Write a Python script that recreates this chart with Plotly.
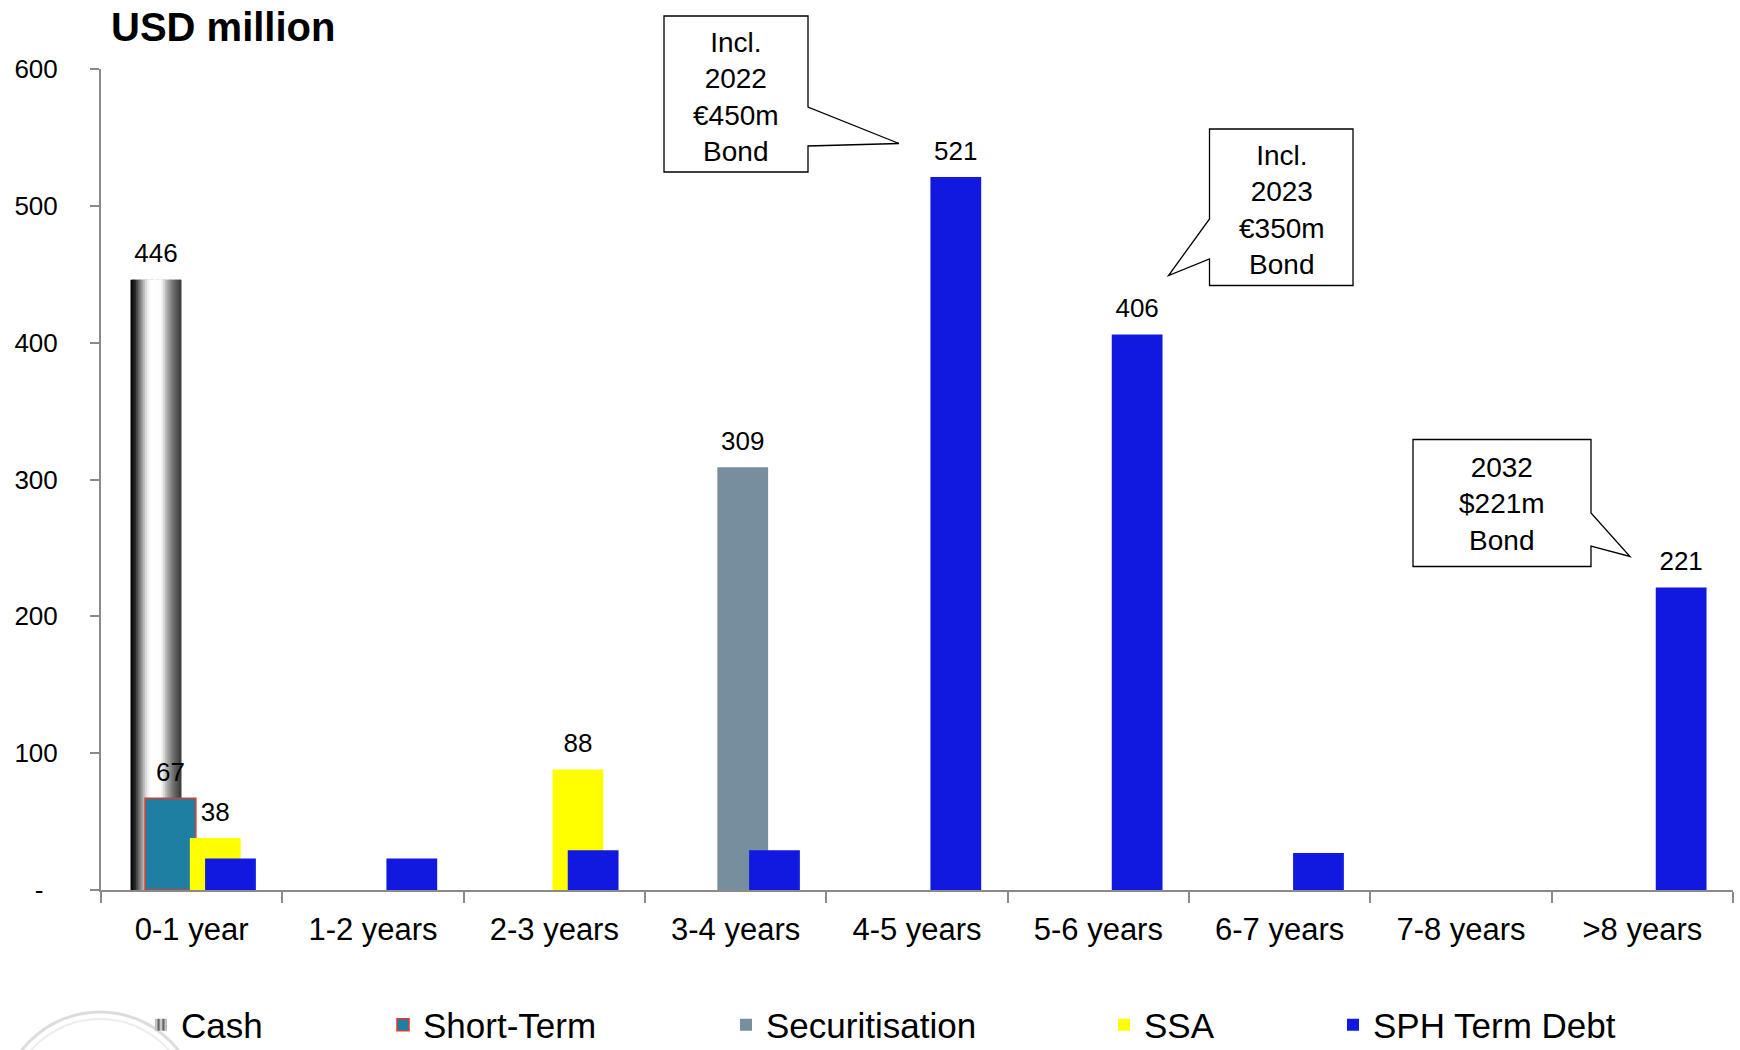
import plotly.graph_objects as go

# ---------------- data ----------------
categories = ["0-1 year", "1-2 years", "2-3 years", "3-4 years", "4-5 years",
              "5-6 years", "6-7 years", "7-8 years", ">8 years"]
cash = [446, None, None, None, None, None, None, None, None]
short_term = [67, None, None, None, None, None, None, None, None]
securitisation = [None, None, None, 309, None, None, None, None, None]
ssa = [38, None, 88, None, None, None, None, None, None]
sph_term_debt = [23, 23, 29, 29, 521, 406, 27, None, 221]
y_tick_values = [0, 100, 200, 300, 400, 500, 600]
y_tick_labels = ["-", "100", "200", "300", "400", "500", "600"]

series_names = ["Cash", "Short-Term", "Securitisation", "SSA", "SPH Term Debt"]
callout_texts = ["Incl.<br>2022<br>€450m<br>Bond",
                 "Incl.<br>2023<br>€350m<br>Bond",
                 "2032<br>$221m<br>Bond"]

# ---------------- layout geometry (pixels) ----------------
W, H = 1740, 1050
PL, PR, PT, PB = 101, 1733, 69, 890   # plot area edges
FONT = "Liberation Sans, Arial, sans-serif"
AXIS_GREY = "#8a8a8a"

def px_x(xp):
    return (xp - PL) / (PR - PL)

def px_y(yp):
    return (PB - yp) / (PB - PT)

x_idx = list(range(len(categories)))
BW = 0.28
offsets = {"Cash": -0.337, "Short-Term": -0.257, "Securitisation": -0.101,
           "SSA": -0.010, "SPH Term Debt": 0.074}
colors = {"Short-Term": "#1f7fa3", "Securitisation": "#778e9e",
          "SSA": "#ffff00", "SPH Term Debt": "#1119e0"}
legend_keys = {"Cash": "legend", "Short-Term": "legend2", "Securitisation": "legend3",
               "SSA": "legend4", "SPH Term Debt": "legend5"}

fig = go.Figure()

# ---- Cash bar (legend entry, striped symbol) ----
fig.add_trace(go.Bar(
    x=x_idx, y=cash, name="Cash", offset=offsets["Cash"], width=BW,
    marker=dict(color="#555555", line=dict(width=0),
                pattern=dict(shape="|", fgcolor="#000000", bgcolor="#c8c8c8",
                             size=6, solidity=0.45)),
    legendgroup="Cash", showlegend=True, legend="legend", hoverinfo="skip"))

# ---- metallic gradient shading of the Cash bar (sliced) ----
stops = [(0.0, 0x00), (0.08, 0x22), (0.22, 0x99), (0.32, 0xe6), (0.40, 0xff),
         (0.60, 0xfd), (0.74, 0xa0), (0.86, 0x66), (1.0, 0x3a)]

def grey_at(t):
    for (p0, g0), (p1, g1) in zip(stops[:-1], stops[1:]):
        if p0 <= t <= p1:
            g = int(round(g0 + (g1 - g0) * (t - p0) / (p1 - p0)))
            return f"rgb({g},{g},{g})"
    return "rgb(0,0,0)"

N = 28
ws = BW / N
for i in range(N):
    t = (i + 0.5) / N
    off = offsets["Cash"] + i * ws
    width = min(ws * 1.6, offsets["Cash"] + BW - off)
    fig.add_trace(go.Bar(
        x=x_idx, y=cash, name="Cash", offset=off, width=width,
        marker=dict(color=grey_at(t), line=dict(width=0)),
        legendgroup="Cash", showlegend=False, legend="legend", hoverinfo="skip"))

# ---- other series ----
series_vals = {"Short-Term": short_term, "Securitisation": securitisation,
               "SSA": ssa, "SPH Term Debt": sph_term_debt}
for name in ["Short-Term", "Securitisation", "SSA", "SPH Term Debt"]:
    line = dict(width=1.5, color="#e03a2a") if name == "Short-Term" else dict(width=0)
    fig.add_trace(go.Bar(
        x=x_idx, y=series_vals[name], name=name, offset=offsets[name], width=BW,
        marker=dict(color=colors[name], line=line),
        legend=legend_keys[name], legendgroup=name))

# ---- data labels ----
all_vals = {"Cash": cash, **series_vals}
for name in series_names:
    vals = all_vals[name]
    xs, ys, ts = [], [], []
    for i, v in enumerate(vals):
        if v is not None and v >= 30:
            xs.append(x_idx[i] + offsets[name] + BW / 2)
            ys.append(v)
            ts.append(str(v))
    fig.add_trace(go.Scatter(
        x=xs, y=ys, text=ts, mode="markers+text", textposition="top center",
        marker=dict(size=16, color="rgba(0,0,0,0)"),
        textfont=dict(size=26, color="#000000", family=FONT),
        showlegend=False, hoverinfo="skip", cliponaxis=False))

# ---- callout boxes ----
shapes = []
annotations = []

def box_path_right(l, t, r, b, tt, tip_x, tip_y, tb):
    pts = [(l, t), (r, t), (r, tt), (tip_x, tip_y), (r, tb), (r, b), (l, b)]
    return "M " + " L ".join(f"{px_x(x):.5f},{px_y(y):.5f}" for x, y in pts) + " Z"

def box_path_left(l, t, r, b, tt, tip_x, tip_y, tb):
    pts = [(l, t), (r, t), (r, b), (l, b), (l, tb), (tip_x, tip_y), (l, tt)]
    return "M " + " L ".join(f"{px_x(x):.5f},{px_y(y):.5f}" for x, y in pts) + " Z"

callouts = [
    (box_path_right(664, 16, 808, 172, 107, 899, 143.5, 146), (736, 97)),
    (box_path_left(1209.5, 129, 1353, 285.5, 219, 1168.5, 275.5, 259), (1282, 210)),
    (box_path_right(1413, 439.5, 1591, 566.5, 513, 1630, 556.5, 546), (1502, 504)),
]
for (path, (cx, cy)), txt in zip(callouts, callout_texts):
    shapes.append(dict(type="path", path=path, xref="paper", yref="paper",
                       line=dict(color="#000000", width=1.3), fillcolor="#ffffff",
                       layer="above"))
    annotations.append(dict(x=px_x(cx), y=px_y(cy), xref="paper", yref="paper",
                            text=txt, showarrow=False, xanchor="center", yanchor="middle",
                            align="center", font=dict(size=28, color="#000000", family=FONT)))

# ---- decorative circle at bottom-left ----
for r, col, lw in [(99, "#dcdcdc", 3), (92, "#ededed", 2)]:
    shapes.append(dict(type="circle", xref="paper", yref="paper",
                       x0=px_x(100 - r), x1=px_x(100 + r),
                       y0=px_y(1111 + r), y1=px_y(1111 - r),
                       line=dict(color=col, width=lw), fillcolor="rgba(0,0,0,0)",
                       layer="below"))

# ---- legends ----
legend_text_start = {"Cash": 181, "Short-Term": 423, "Securitisation": 766,
                     "SSA": 1144, "SPH Term Debt": 1373}
legend_layouts = {}
for name in series_names:
    legend_layouts[legend_keys[name]] = dict(
        x=(legend_text_start[name] - 40) / W, xref="container", xanchor="left",
        y=(H - 1025) / H, yref="container", yanchor="middle",
        orientation="h", bgcolor="rgba(0,0,0,0)",
        font=dict(size=35, color="#000000", family=FONT))

fig.update_layout(
    width=W, height=H,
    margin=dict(l=PL, r=W - PR, t=PT, b=H - PB, pad=0),
    paper_bgcolor="#ffffff", plot_bgcolor="#ffffff",
    barmode="overlay",
    font=dict(family=FONT, color="#000000"),
    title=dict(text="<b>USD million</b>", x=111 / W, xref="container", xanchor="left",
               y=1 - 27 / H, yref="container", yanchor="middle",
               font=dict(size=40, color="#000000", family=FONT)),
    shapes=shapes, annotations=annotations,
    **legend_layouts,
)

fig.update_xaxes(
    range=[-0.5, len(categories) - 0.5], tickmode="array",
    tickvals=x_idx, ticktext=categories, ticks="", showgrid=False, zeroline=False,
    showline=True, linecolor=AXIS_GREY, linewidth=2,
    tickfont=dict(size=31, color="#000000", family=FONT), ticklabelstandoff=11,
    minor=dict(tickmode="array", tickvals=[i - 0.5 for i in range(len(categories) + 1)],
               ticks="outside", ticklen=11, tickwidth=2, tickcolor=AXIS_GREY, showgrid=False),
)
fig.update_yaxes(
    range=[0, 600], tickmode="array", tickvals=y_tick_values,
    ticktext=[t + "\u00a0\u00a0" if t == "-" else t for t in y_tick_labels],
    ticks="outside", ticklen=9, tickwidth=2, tickcolor=AXIS_GREY,
    showgrid=False, zeroline=False, showline=True, linecolor=AXIS_GREY, linewidth=2,
    tickfont=dict(size=26, color="#000000", family=FONT), ticklabelstandoff=27,
)

fig.write_html("out.html", config={"displayModeBar": False},
               post_script="document.body.style.margin='0px';")
